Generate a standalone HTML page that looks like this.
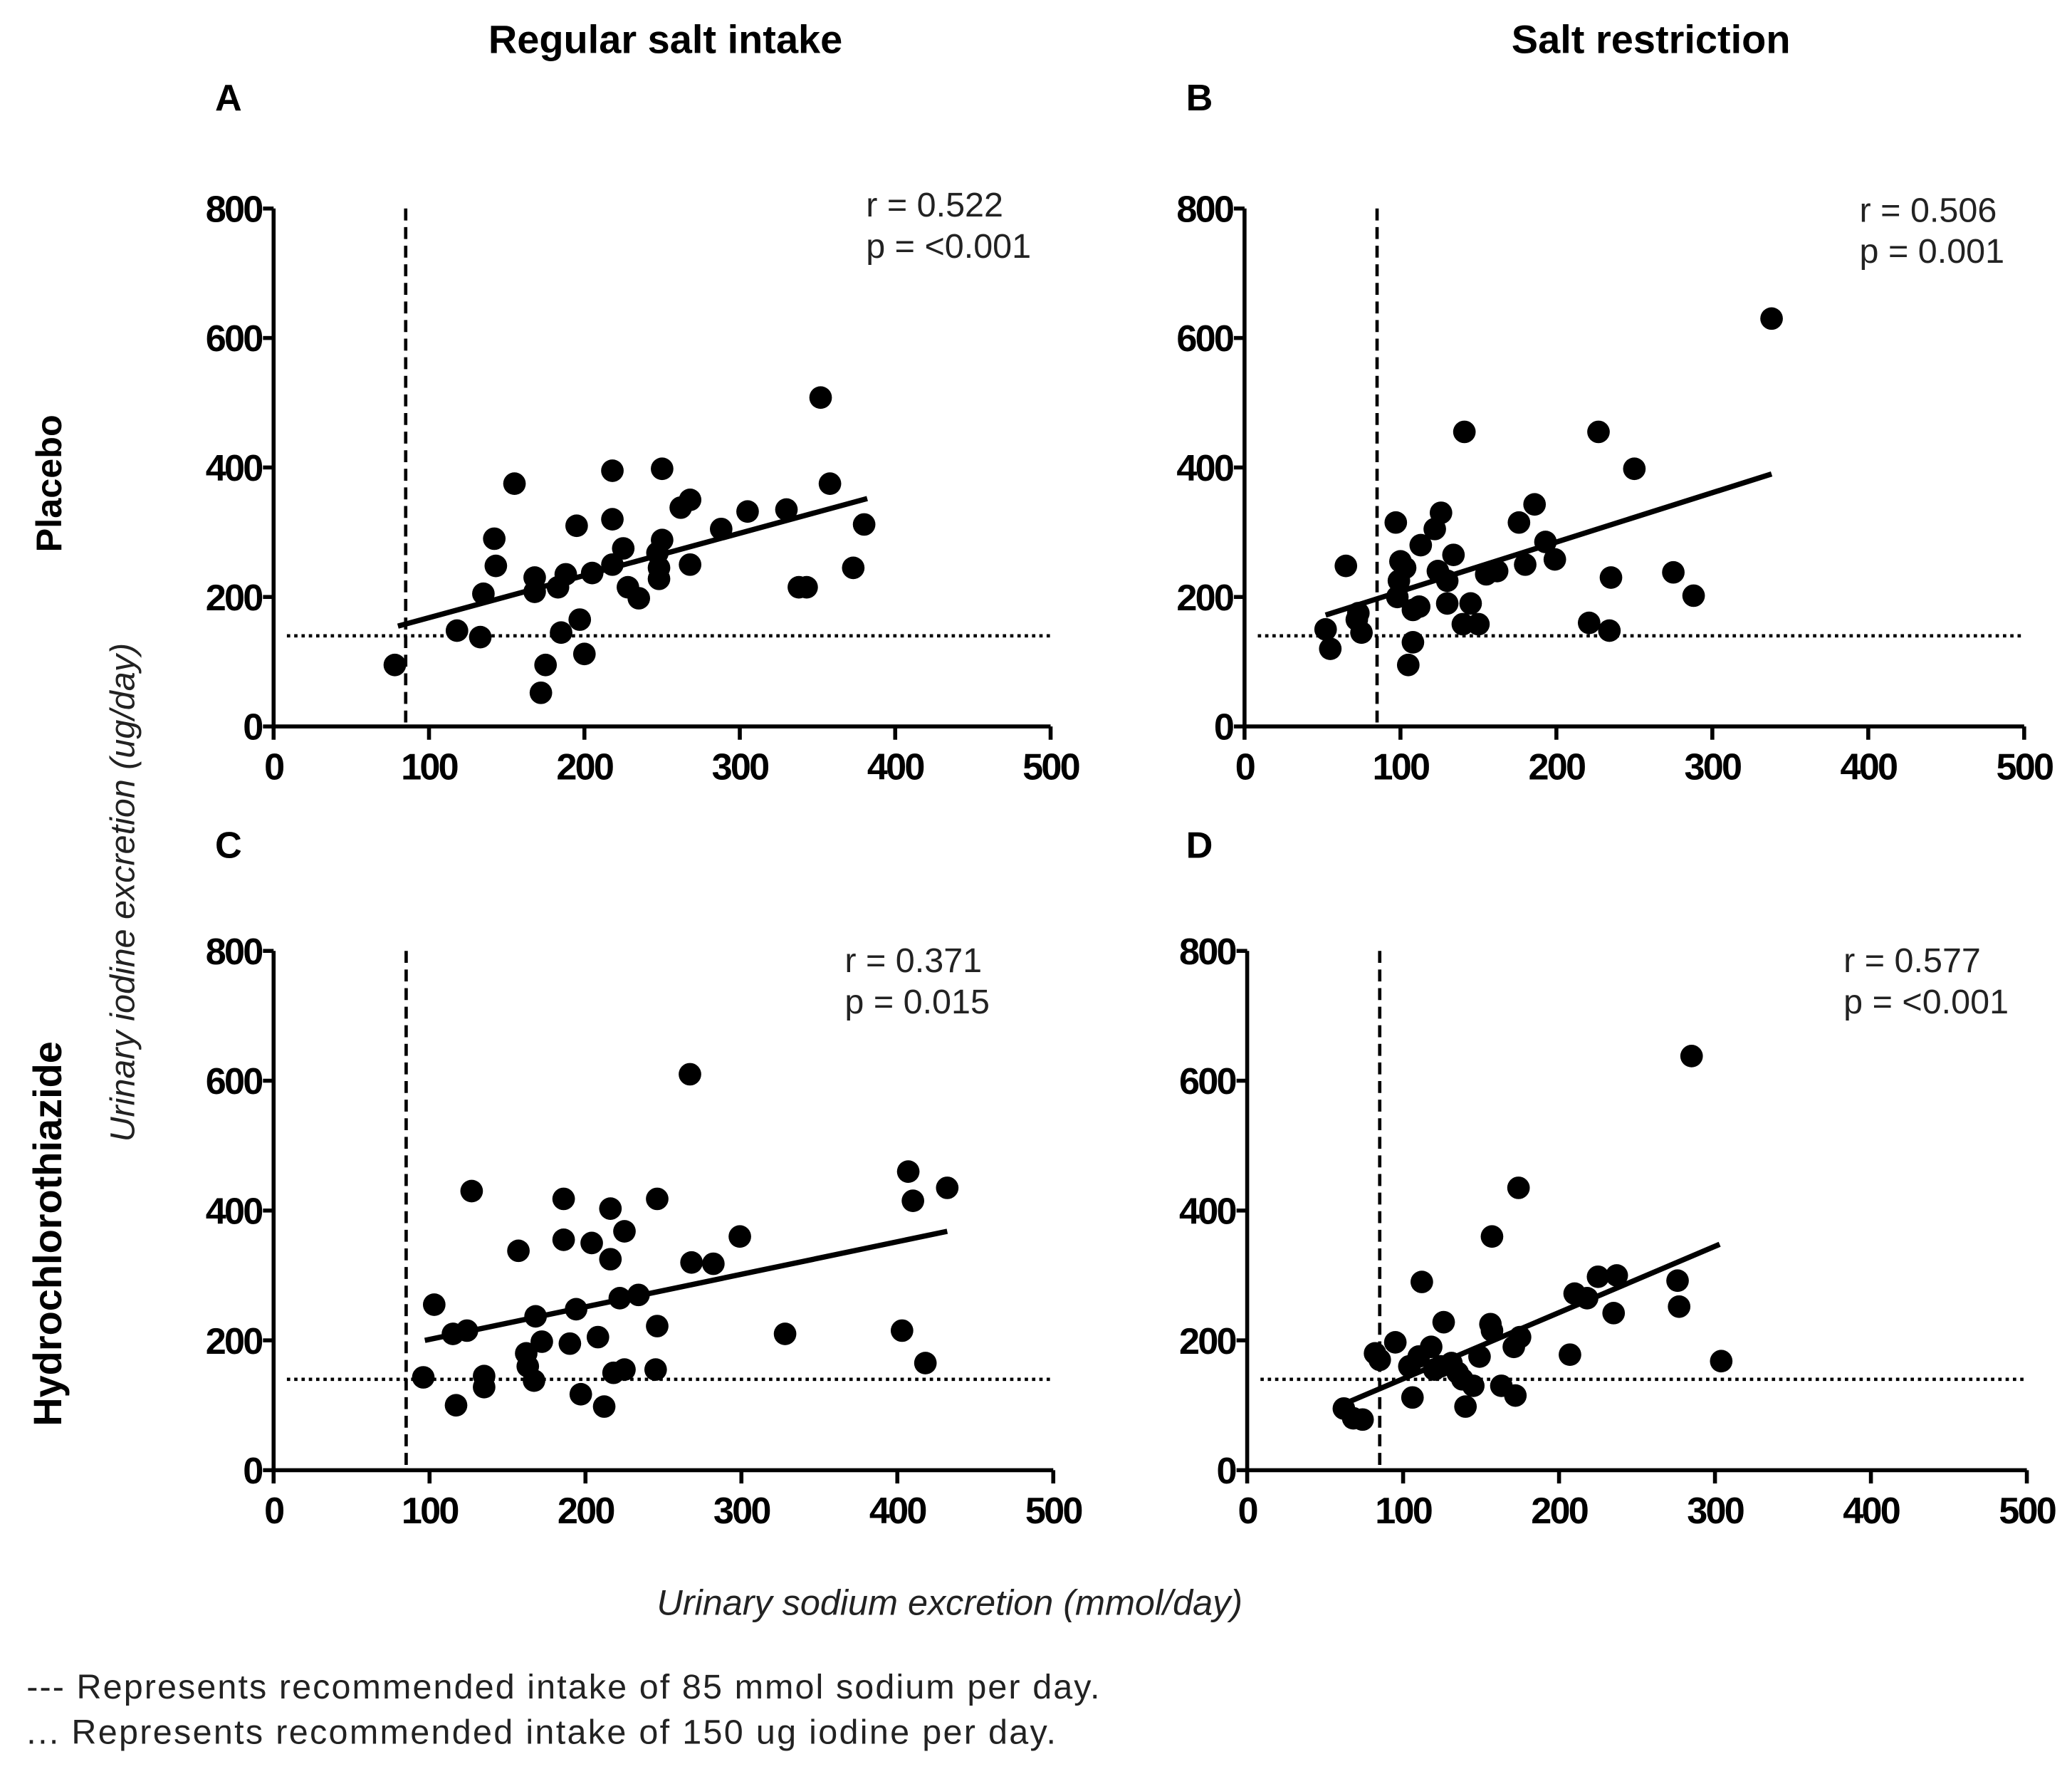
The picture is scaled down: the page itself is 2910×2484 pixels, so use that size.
<!DOCTYPE html>
<html><head><meta charset="utf-8"><style>
html,body{margin:0;padding:0;background:#fff}
svg{display:block}
text{font-family:"Liberation Sans",Arial,sans-serif}
</style></head><body>
<svg id="fig" width="2910" height="2484" viewBox="0 0 1560 1332" preserveAspectRatio="none" xmlns="http://www.w3.org/2000/svg">
<text x="501" y="40" text-anchor="middle" font-size="30" font-weight="bold">Regular salt intake</text>
<text x="1243" y="40" text-anchor="middle" font-size="30" font-weight="bold">Salt restriction</text>
<text transform="translate(46,364) rotate(-90)" text-anchor="middle" font-size="27" font-weight="bold">Placebo</text>
<text transform="translate(46,929) rotate(-90)" text-anchor="middle" font-size="30" font-weight="bold">Hydrochlorothiazide</text>
<text transform="translate(101,672) rotate(-90)" text-anchor="middle" font-size="26" font-style="italic" fill="#222">Urinary iodine excretion  (ug/day)</text>
<text x="715" y="1216" text-anchor="middle" font-size="27" font-style="italic" fill="#222">Urinary sodium excretion (mmol/day)</text>
<text x="20" y="1279" font-size="26" fill="#222" textLength="808">--- Represents recommended intake of 85 mmol sodium per day.</text>
<text x="20" y="1313" font-size="26" fill="#222" textLength="775">... Represents recommended intake of 150 ug iodine per day.</text>
<g id="panels"></g>
</svg>
<script>
const xTicks=[0,100,200,300,400,500];
const yTicks=[0,200,400,600,800];
const sodiumRef=85;
const iodineRef=140;
const panelLetters=["A","B","C","D"];
const rValues=["r = 0.522","r = 0.506","r = 0.371","r = 0.577"];
const pValues=["p = <0.001","p = 0.001","p = 0.015","p = <0.001"];
const aX=[78,118,133,135,142,143,155,168,168,175,172,183,185,188,195,197,200,205,218,218,218,225,228,235,247,248,248,250,250,262,268,268,288,305,330,338,343,352,358,373,380];
const aY=[95,148,138,205,290,248,375,230,208,95,52,215,145,235,310,165,112,237,250,395,320,275,215,198,268,245,228,288,398,338,350,250,305,332,335,215,215,508,375,245,312];
const bX=[52,55,65,72,73,75,97,98,99,100,103,105,108,108,112,113,122,126,124,130,130,134,140,141,145,150,155,162,176,180,186,193,199,221,227,234,235,250,275,288,338];
const bY=[150,120,248,165,175,145,315,200,225,255,245,95,130,180,185,280,305,330,240,225,190,265,158,455,190,158,235,240,315,250,343,285,258,160,455,148,230,398,238,202,630];
const cX=[96,103,115,117,124,127,135,135,157,162,163,167,168,172,186,186,190,194,197,204,208,212,216,216,218,222,225,225,234,246,246,245,267,268,282,299,328,403,407,410,418,432];
const cY=[143,255,210,100,215,430,145,128,338,180,160,138,237,198,355,418,195,248,117,350,205,98,403,325,150,265,155,368,270,418,222,155,610,320,318,360,210,215,460,415,165,435];
const dX=[62,68,74,82,85,95,104,106,110,112,118,120,124,126,131,135,138,140,145,149,156,157,157,163,171,172,174,175,207,210,218,225,235,237,276,277,304,285];
const dY=[95,80,78,180,170,197,160,112,175,290,190,155,160,228,165,150,140,98,130,175,225,360,215,130,190,115,435,205,178,272,265,298,242,300,292,252,168,638];
const fitX=[[80,382],[52,338],[97,432],[62,303]];
const fitY=[[155,352],[172,390],[200,368],[102,348]];
const seriesX=[aX,bX,cX,dX];
const seriesY=[aY,bY,cY,dY];

const layout=[
 {x0:206,x1:791,y0:547,y1:157,lx:172,ly:83,sx:652,sy:163},
 {x0:937,x1:1524,y0:547,y1:157,lx:903,ly:83,sx:1400,sy:167},
 {x0:206,x1:793,y0:1107,y1:716,lx:172,ly:646,sx:636,sy:732},
 {x0:939,x1:1526,y0:1107,y1:716,lx:903,ly:646,sx:1388,sy:732}
];
const NS="http://www.w3.org/2000/svg";
const root=document.getElementById('panels');
function mk(tag,attrs,parent){const e=document.createElementNS(NS,tag);for(const k in attrs)e.setAttribute(k,attrs[k]);(parent||root).appendChild(e);return e;}
layout.forEach((L,i)=>{
 const g=mk('g',{});
 
 
 const sx=v=>L.x0+(v-0)/500*(L.x1-L.x0);
 const sy=v=>L.y0+(v-0)/800*(L.y1-L.y0);
 const lt=mk('text',{x:L.lx,y:L.ly,'font-size':28,'font-weight':'bold','text-anchor':'middle'},g);lt.textContent=panelLetters[i];
 
 
 const ax=mk('path',{d:`M${L.x0},${L.y1}V${L.y0}H${L.x1}`,stroke:'#000','stroke-width':3,fill:'none'},g);
 
 
 yTicks.forEach(t=>{
  mk('line',{x1:L.x0-8,x2:L.x0,y1:sy(t),y2:sy(t),stroke:'#000','stroke-width':3},g);
  const tx=mk('text',{x:L.x0-9,y:sy(t)+10,'font-size':28,'font-weight':'bold','text-anchor':'end','letter-spacing':'-1.5'},g);tx.textContent=t;
  
  
 });
 xTicks.forEach(t=>{
  mk('line',{x1:sx(t),x2:sx(t),y1:L.y0,y2:L.y0+10,stroke:'#000','stroke-width':3},g);
  const tx=mk('text',{x:sx(t),y:L.y0+40,'font-size':28,'font-weight':'bold','text-anchor':'middle','letter-spacing':'-1.5'},g);tx.textContent=t;
  
  
 });
 const vr=mk('line',{x1:sx(sodiumRef),x2:sx(sodiumRef),y1:sy(800),y2:sy(0),stroke:'#000','stroke-width':2.5,'stroke-dasharray':'9,5'},g);
 
 
 const hr=mk('line',{x1:sx(0)+10,x2:sx(500),y1:sy(iodineRef),y2:sy(iodineRef),stroke:'#000','stroke-width':2.5,'stroke-dasharray':'2.5,3'},g);
 
 
 seriesX[i].forEach((xv,j)=>{
  const c=mk('circle',{cx:sx(xv),cy:sy(seriesY[i][j]),r:8.5,fill:'#000'},g);
  
  
 });
 const fl=mk('line',{x1:sx(fitX[i][0]),y1:sy(fitY[i][0]),x2:sx(fitX[i][1]),y2:sy(fitY[i][1]),stroke:'#000','stroke-width':4},g);
 
 
 const r=mk('text',{x:L.sx,y:L.sy,'font-size':26,fill:'#222'},g);r.textContent=rValues[i];
 
 
 const p=mk('text',{x:L.sx,y:L.sy+31,'font-size':26,fill:'#222'},g);p.textContent=pValues[i];
 
 
});
</script>
</body></html>
